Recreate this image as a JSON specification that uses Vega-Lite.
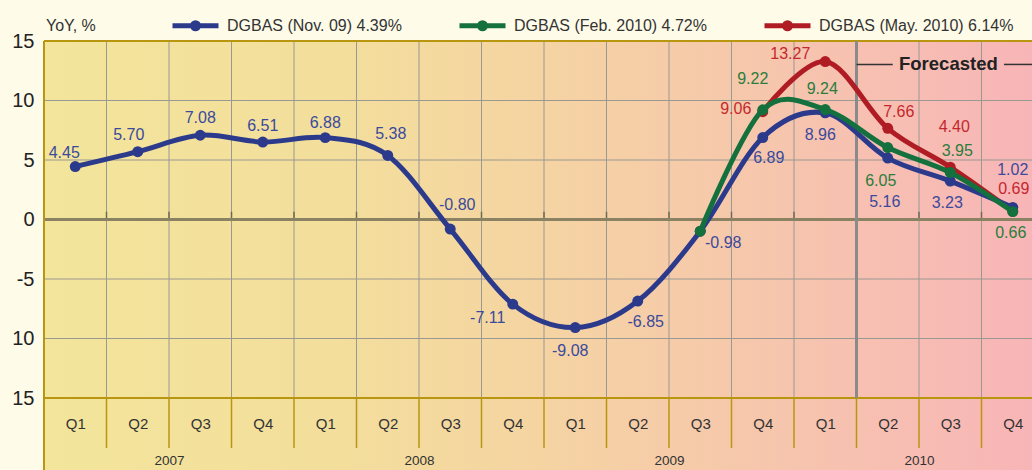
{
  "$schema": "https://vega.github.io/schema/vega-lite/v6.json",
  "width": 988,
  "height": 357,
  "autosize": {"type": "none"},
  "padding": {"left": 44, "top": 41, "right": 0, "bottom": 72},
  "background": "#fefbe8",
  "config": {
    "view": {"stroke": null},
    "font": "Liberation Sans",
    "legend": {
      "orient": "none",
      "legendX": 126,
      "legendY": -41,
      "direction": "horizontal",
      "columns": 3,
      "columnPadding": 47,
      "symbolType": "M-1,0H1M-0.13,0A0.13,0.13,0,1,1,0.13,0A0.13,0.13,0,1,1,-0.13,0",
      "symbolSize": 2116,
      "symbolStrokeWidth": 5,
      "labelOffset": 6,
      "labelFontSize": 16,
      "labelFont": "Liberation Sans",
      "labelColor": "#333333",
      "labelLimit": 400,
      "padding": 0
    }
  },
  "datasets": {
    "q": [
      {"series": "DGBAS (May. 2010) 6.14%", "t": 11, "v": 9.06},
      {"series": "DGBAS (May. 2010) 6.14%", "t": 12, "v": 13.27},
      {"series": "DGBAS (May. 2010) 6.14%", "t": 13, "v": 7.66},
      {"series": "DGBAS (May. 2010) 6.14%", "t": 14, "v": 4.40},
      {"series": "DGBAS (May. 2010) 6.14%", "t": 15, "v": 0.69},
      {"series": "DGBAS (Nov. 09) 4.39%", "t": 0, "v": 4.45},
      {"series": "DGBAS (Nov. 09) 4.39%", "t": 1, "v": 5.70},
      {"series": "DGBAS (Nov. 09) 4.39%", "t": 2, "v": 7.08},
      {"series": "DGBAS (Nov. 09) 4.39%", "t": 3, "v": 6.51},
      {"series": "DGBAS (Nov. 09) 4.39%", "t": 4, "v": 6.88},
      {"series": "DGBAS (Nov. 09) 4.39%", "t": 5, "v": 5.38},
      {"series": "DGBAS (Nov. 09) 4.39%", "t": 6, "v": -0.80},
      {"series": "DGBAS (Nov. 09) 4.39%", "t": 7, "v": -7.11},
      {"series": "DGBAS (Nov. 09) 4.39%", "t": 8, "v": -9.08},
      {"series": "DGBAS (Nov. 09) 4.39%", "t": 9, "v": -6.85},
      {"series": "DGBAS (Nov. 09) 4.39%", "t": 10, "v": -0.98},
      {"series": "DGBAS (Nov. 09) 4.39%", "t": 11, "v": 6.89},
      {"series": "DGBAS (Nov. 09) 4.39%", "t": 12, "v": 8.96},
      {"series": "DGBAS (Nov. 09) 4.39%", "t": 13, "v": 5.16},
      {"series": "DGBAS (Nov. 09) 4.39%", "t": 14, "v": 3.23},
      {"series": "DGBAS (Nov. 09) 4.39%", "t": 15, "v": 1.02},
      {"series": "DGBAS (Feb. 2010) 4.72%", "t": 10, "v": -0.98},
      {"series": "DGBAS (Feb. 2010) 4.72%", "t": 11, "v": 9.22},
      {"series": "DGBAS (Feb. 2010) 4.72%", "t": 12, "v": 9.24},
      {"series": "DGBAS (Feb. 2010) 4.72%", "t": 13, "v": 6.05},
      {"series": "DGBAS (Feb. 2010) 4.72%", "t": 14, "v": 3.95},
      {"series": "DGBAS (Feb. 2010) 4.72%", "t": 15, "v": 0.66}
    ],
    "bounds": [
      {"b": 0.5}, {"b": 1.5}, {"b": 2.5}, {"b": 3.5}, {"b": 4.5}, {"b": 5.5}, {"b": 6.5}, {"b": 7.5},
      {"b": 8.5}, {"b": 9.5}, {"b": 10.5}, {"b": 11.5}, {"b": 12.5}, {"b": 13.5}, {"b": 14.5}
    ],
    "one": [{}]
  },
  "data": {"name": "q"},
  "resolve": {"axis": {"x": "independent", "y": "independent"}},
  "layer": [
    {
      "data": {"name": "one"},
      "mark": {"type": "rect", "fill": {"gradient": "linear", "x1": 0, "y1": 0, "x2": 1, "y2": 0, "stops": [
        {"offset": 0, "color": "#f3e59b"},
        {"offset": 0.3, "color": "#f3de9c"},
        {"offset": 0.5, "color": "#f5d4a2"},
        {"offset": 0.7, "color": "#f6c8ab"},
        {"offset": 0.85, "color": "#f7bfb2"},
        {"offset": 1, "color": "#f8b5b7"}
      ]}},
      "encoding": {
        "x": {"datum": -0.5, "type": "quantitative", "scale": {"domain": [-0.5, 15.308], "nice": false, "zero": false},
          "axis": {"orient": "bottom", "values": [0,1,2,3,4,5,6,7,8,9,10,11,12,13,14,15], "labelExpr": "'Q' + (datum.value % 4 + 1)", "ticks": false, "tickSize": 0, "domain": false, "grid": false, "labelPadding": 18, "labelFontSize": 15, "labelColor": "#333333", "labelFont": "Liberation Sans", "labelFlush": false, "title": null, "zindex": 1}},
        "x2": {"datum": 15.308},
        "y": {"datum": 15, "type": "quantitative", "scale": {"domain": [-15, 15], "nice": false, "zero": false},
          "axis": {"orient": "left", "values": [15, 10, 5, 0, -5, -10, -15], "labelExpr": "datum.value < -5 ? '' + abs(datum.value) : '' + datum.value", "ticks": false, "tickSize": 0, "domain": false, "grid": false, "labelPadding": 10, "labelFontSize": 20, "labelColor": "#222222", "labelFont": "Liberation Sans", "title": null, "zindex": 1}},
        "y2": {"datum": -21.1}
      }
    },
    {
      "data": {"values": [{"g": 10}, {"g": 5}, {"g": -5}, {"g": -10}]},
      "mark": {"type": "rule", "color": "#9a9892", "strokeWidth": 1},
      "encoding": {"y": {"field": "g", "type": "quantitative", "scale": {"domain": [-15, 15], "nice": false, "zero": false}, "axis": null}}
    },
    {
      "data": {"name": "bounds"},
      "mark": {"type": "rule", "color": "#9a9892", "strokeWidth": 1},
      "encoding": {
        "x": {"field": "b", "type": "quantitative", "scale": {"domain": [-0.5, 15.308], "nice": false, "zero": false}, "axis": null},
        "y": {"datum": 15, "type": "quantitative", "scale": {"domain": [-15, 15], "nice": false, "zero": false}, "axis": null},
        "y2": {"datum": -15}
      }
    },
    {
      "data": {"name": "bounds"},
      "mark": {"type": "rule", "color": "#b8960f", "strokeWidth": 1.5},
      "encoding": {
        "x": {"field": "b", "type": "quantitative", "scale": {"domain": [-0.5, 15.308], "nice": false, "zero": false},
          "axis": {"orient": "bottom", "values": [1.5, 5.5, 9.5, 13.5], "labelExpr": "'' + (2007 + floor(datum.value / 4))", "ticks": false, "tickSize": 0, "domain": false, "grid": false, "labelPadding": 55, "labelFontSize": 13.5, "labelColor": "#333333", "labelFont": "Liberation Sans", "labelFlush": false, "title": null, "zindex": 1}},
        "y": {"datum": -15, "type": "quantitative", "scale": {"domain": [-15, 15], "nice": false, "zero": false}, "axis": null},
        "y2": {"datum": -19.2}
      }
    },
    {
      "data": {"name": "bounds"},
      "mark": {"type": "rule", "color": "#6f6a55", "strokeWidth": 1.5},
      "encoding": {
        "x": {"field": "b", "type": "quantitative", "scale": {"domain": [-0.5, 15.308], "nice": false, "zero": false}, "axis": null},
        "y": {"datum": 0, "type": "quantitative", "scale": {"domain": [-15, 15], "nice": false, "zero": false}, "axis": null},
        "y2": {"datum": 0.65}
      }
    },
    {
      "data": {"name": "one"},
      "mark": {"type": "rule", "color": "#8a8262", "strokeWidth": 3},
      "encoding": {"y": {"datum": 0, "type": "quantitative", "scale": {"domain": [-15, 15], "nice": false, "zero": false}, "axis": null}}
    },
    {
      "data": {"values": [{"g": 15}, {"g": -15}]},
      "mark": {"type": "rule", "color": "#b8960f", "strokeWidth": 2},
      "encoding": {"y": {"field": "g", "type": "quantitative", "scale": {"domain": [-15, 15], "nice": false, "zero": false}, "axis": null}}
    },
    {
      "data": {"name": "one"},
      "mark": {"type": "rule", "color": "#b8960f", "strokeWidth": 2},
      "encoding": {
        "x": {"datum": -0.5, "type": "quantitative", "scale": {"domain": [-0.5, 15.308], "nice": false, "zero": false}, "axis": null},
        "y": {"datum": 15, "type": "quantitative", "scale": {"domain": [-15, 15], "nice": false, "zero": false}, "axis": null},
        "y2": {"datum": -21.1}
      }
    },
    {
      "data": {"name": "one"},
      "mark": {"type": "rule", "color": "#8a8a8a", "strokeWidth": 3},
      "encoding": {
        "x": {"datum": 12.5, "type": "quantitative", "scale": {"domain": [-0.5, 15.308], "nice": false, "zero": false}, "axis": null},
        "y": {"datum": 15, "type": "quantitative", "scale": {"domain": [-15, 15], "nice": false, "zero": false}, "axis": null},
        "y2": {"datum": -15}
      }
    },
    {
      "data": {"name": "one"},
      "mark": {"type": "rule", "color": "#333333", "strokeWidth": 1.5},
      "encoding": {
        "x": {"datum": 12.5, "type": "quantitative", "scale": {"domain": [-0.5, 15.308], "nice": false, "zero": false}, "axis": null},
        "x2": {"datum": 13.08},
        "y": {"datum": 13.03, "type": "quantitative", "scale": {"domain": [-15, 15], "nice": false, "zero": false}, "axis": null}
      }
    },
    {
      "data": {"name": "one"},
      "mark": {"type": "rule", "color": "#333333", "strokeWidth": 1.5},
      "encoding": {
        "x": {"datum": 14.86, "type": "quantitative", "scale": {"domain": [-0.5, 15.308], "nice": false, "zero": false}, "axis": null},
        "x2": {"datum": 15.308},
        "y": {"datum": 13.03, "type": "quantitative", "scale": {"domain": [-15, 15], "nice": false, "zero": false}, "axis": null}
      }
    },
    {
      "data": {"name": "one"},
      "mark": {"type": "text", "text": "Forecasted", "fontSize": 18.5, "fontWeight": "bold", "color": "#222222", "font": "Liberation Sans", "align": "center", "baseline": "middle"},
      "encoding": {
        "x": {"datum": 13.97, "type": "quantitative", "scale": {"domain": [-0.5, 15.308], "nice": false, "zero": false}, "axis": null},
        "y": {"datum": 13.03, "type": "quantitative", "scale": {"domain": [-15, 15], "nice": false, "zero": false}, "axis": null}
      }
    },
    {
      "data": {"name": "one"},
      "mark": {"type": "text", "text": "YoY, %", "fontSize": 16, "color": "#333333", "font": "Liberation Sans", "align": "left", "baseline": "middle", "dx": 2},
      "encoding": {
        "x": {"datum": -0.5, "type": "quantitative", "scale": {"domain": [-0.5, 15.308], "nice": false, "zero": false}, "axis": null},
        "y": {"datum": 16.3, "type": "quantitative", "scale": {"domain": [-15, 15], "nice": false, "zero": false}, "axis": null}
      }
    },
    {
      "transform": [{"filter": "datum.series == 'DGBAS (May. 2010) 6.14%'"}],
      "mark": {"type": "line", "interpolate": "cardinal", "strokeWidth": 5, "point": {"filled": true, "size": 120, "opacity": 1}},
      "encoding": {
        "x": {"field": "t", "type": "quantitative", "scale": {"domain": [-0.5, 15.308], "nice": false, "zero": false}, "axis": null},
        "y": {"field": "v", "type": "quantitative", "scale": {"domain": [-15, 15], "nice": false, "zero": false}, "axis": null},
        "color": {"field": "series", "type": "nominal", "title": null, "scale": {"domain": ["DGBAS (Nov. 09) 4.39%", "DGBAS (Feb. 2010) 4.72%", "DGBAS (May. 2010) 6.14%"], "range": ["#2c3a8c", "#14703c", "#b01c23"]}}
      }
    },
    {
      "transform": [{"filter": "datum.series == 'DGBAS (Nov. 09) 4.39%'"}],
      "mark": {"type": "line", "interpolate": "cardinal", "strokeWidth": 5, "point": {"filled": true, "size": 120, "opacity": 1}},
      "encoding": {
        "x": {"field": "t", "type": "quantitative", "scale": {"domain": [-0.5, 15.308], "nice": false, "zero": false}, "axis": null},
        "y": {"field": "v", "type": "quantitative", "scale": {"domain": [-15, 15], "nice": false, "zero": false}, "axis": null},
        "color": {"field": "series", "type": "nominal", "title": null, "scale": {"domain": ["DGBAS (Nov. 09) 4.39%", "DGBAS (Feb. 2010) 4.72%", "DGBAS (May. 2010) 6.14%"], "range": ["#2c3a8c", "#14703c", "#b01c23"]}}
      }
    },
    {
      "transform": [{"filter": "datum.series == 'DGBAS (Feb. 2010) 4.72%'"}],
      "mark": {"type": "line", "interpolate": "cardinal", "strokeWidth": 5, "point": {"filled": true, "size": 120, "opacity": 1}},
      "encoding": {
        "x": {"field": "t", "type": "quantitative", "scale": {"domain": [-0.5, 15.308], "nice": false, "zero": false}, "axis": null},
        "y": {"field": "v", "type": "quantitative", "scale": {"domain": [-15, 15], "nice": false, "zero": false}, "axis": null},
        "color": {"field": "series", "type": "nominal", "title": null, "scale": {"domain": ["DGBAS (Nov. 09) 4.39%", "DGBAS (Feb. 2010) 4.72%", "DGBAS (May. 2010) 6.14%"], "range": ["#2c3a8c", "#14703c", "#b01c23"]}}
      }
    },
    {
      "transform": [{"filter": "datum.series == 'DGBAS (Nov. 09) 4.39%'"}, {"calculate": "replace(format(datum.v, '.2f'), '−', '-')", "as": "lbl"}],
      "mark": {"type": "text", "fontSize": 16, "font": "Liberation Sans", "color": "#3a4a9c", "align": "center", "baseline": "middle",
        "dx": {"expr": "[-11,-9,0,0,0,3,7,-25,-5,8,23,6,-5,-3,-3,0][datum.t]"},
        "dy": {"expr": "[-14,-17,-17,-16,-15,-21,-24,14,23,21,12,20,22,44,22,-37][datum.t]"}},
      "encoding": {
        "x": {"field": "t", "type": "quantitative", "scale": {"domain": [-0.5, 15.308], "nice": false, "zero": false}, "axis": null},
        "y": {"field": "v", "type": "quantitative", "scale": {"domain": [-15, 15], "nice": false, "zero": false}, "axis": null},
        "text": {"field": "lbl", "type": "nominal"}
      }
    },
    {
      "transform": [{"filter": "datum.series == 'DGBAS (Feb. 2010) 4.72%' && datum.t >= 11"}, {"calculate": "replace(format(datum.v, '.2f'), '−', '-')", "as": "lbl"}],
      "mark": {"type": "text", "fontSize": 16, "font": "Liberation Sans", "color": "#2a7d3c", "align": "center", "baseline": "middle",
        "dx": {"expr": "[-10,-3,-7,7,-2][datum.t - 11]"},
        "dy": {"expr": "[-31,-21,33,-21,21][datum.t - 11]"}},
      "encoding": {
        "x": {"field": "t", "type": "quantitative", "scale": {"domain": [-0.5, 15.308], "nice": false, "zero": false}, "axis": null},
        "y": {"field": "v", "type": "quantitative", "scale": {"domain": [-15, 15], "nice": false, "zero": false}, "axis": null},
        "text": {"field": "lbl", "type": "nominal"}
      }
    },
    {
      "transform": [{"filter": "datum.series == 'DGBAS (May. 2010) 6.14%'"}, {"calculate": "replace(format(datum.v, '.2f'), '−', '-')", "as": "lbl"}],
      "mark": {"type": "text", "fontSize": 16, "font": "Liberation Sans", "color": "#c4282e", "align": "center", "baseline": "middle",
        "dx": {"expr": "[-27,-35,11,4,1][datum.t - 11]"},
        "dy": {"expr": "[-3,-8,-16,-40,-22][datum.t - 11]"}},
      "encoding": {
        "x": {"field": "t", "type": "quantitative", "scale": {"domain": [-0.5, 15.308], "nice": false, "zero": false}, "axis": null},
        "y": {"field": "v", "type": "quantitative", "scale": {"domain": [-15, 15], "nice": false, "zero": false}, "axis": null},
        "text": {"field": "lbl", "type": "nominal"}
      }
    }
  ]
}
